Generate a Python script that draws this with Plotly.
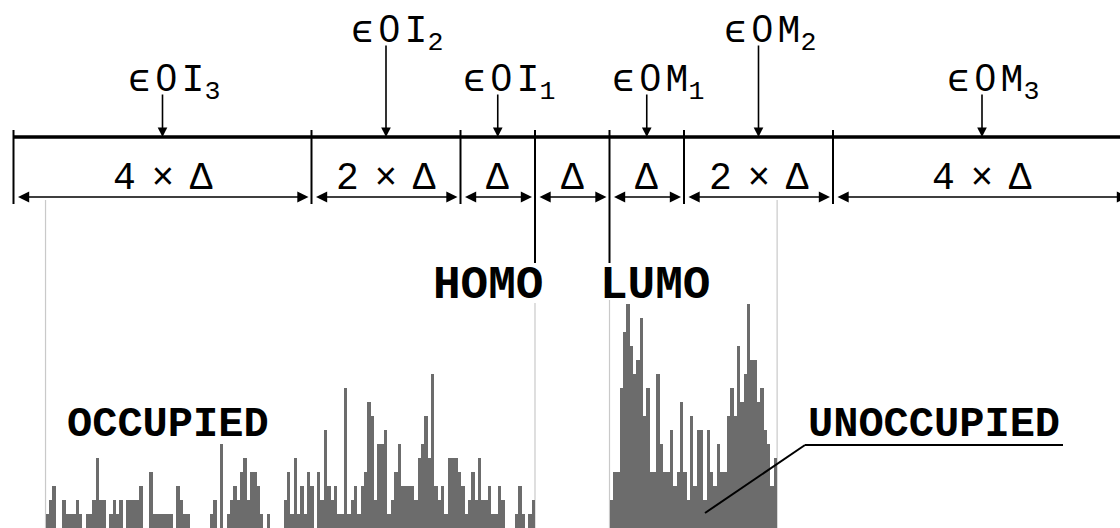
import plotly.graph_objects as go

# ---------------- data ----------------
# Energy axis in units of Delta (HOMO = 0, LUMO = 1)
segment_edges = [-7, -3, -1, 0, 1, 2, 4, 8]
segment_labels = [["4", "×", "Δ"], ["2", "×", "Δ"], ["Δ"], ["Δ"], ["Δ"], ["2", "×", "Δ"], ["4", "×", "Δ"]]

level_names = [["ϵ", "0", "I<sub>3</sub>"], ["ϵ", "0", "I<sub>2</sub>"], ["ϵ", "0", "I<sub>1</sub>"],
               ["ϵ", "0", "M<sub>1</sub>"], ["ϵ", "0", "M<sub>2</sub>"], ["ϵ", "0", "M<sub>3</sub>"]]
level_positions = [-5, -2, -0.5, 1.5, 3, 6]
level_rows = [2, 1, 2, 2, 1, 2]   # 1 = upper row of labels

# histogram of occupied levels (counts per bin), from low energy up to HOMO
occ_counts = [1, 2, 3, 0, 0, 2, 1, 1, 1, 2,
              1, 0, 1, 1, 2, 5, 2, 2, 0, 1,
              2, 1, 2, 0, 2, 2, 2, 2, 3, 0,
              0, 4, 1, 1, 1, 1, 1, 1, 0, 3,
              2, 1, 1, 0, 0, 0, 0, 0, 0, 1,
              2, 0, 6, 0, 1, 2, 3, 2, 4, 5,
              2, 4, 4, 3, 1, 0, 1, 0, 0, 0,
              0, 2, 4, 1, 5, 1, 3, 1, 4, 3,
              0, 4, 2, 7, 3, 2, 3, 1, 1, 10,
              1, 2, 3, 1, 3, 4, 9, 8, 2, 6,
              6, 7, 1, 2, 4, 6, 3, 3, 3, 3,
              2, 5, 6, 8, 5, 11, 3, 2, 3, 1,
              5, 5, 5, 4, 3, 1, 2, 4, 2, 5,
              2, 2, 3, 1, 1, 3, 2, 0, 0, 0,
              1, 3, 1, 0, 1, 2]
# histogram of unoccupied levels (counts per bin), from LUMO upward
unocc_counts = [2, 4, 4, 10, 14, 16, 13, 11, 12, 15,
                8, 10, 4, 4, 11, 6, 4, 4, 7, 3,
                4, 9, 4, 2, 8, 3, 7, 7, 2, 7,
                4, 3, 6, 4, 4, 8, 10, 8, 13, 9,
                11, 16, 12, 12, 9, 10, 7, 6, 3, 5]
OCC_START = -6.57
UNOCC_START = 1.0
BIN_W = 0.045

# ---------------- figure ----------------
W, H = 1120, 528
PX_PER_UNIT = 74.5
HOMO_PX = 535
X0 = (0 - HOMO_PX) / PX_PER_UNIT
X1 = (W - HOMO_PX) / PX_PER_UNIT
COUNT_PX = 14.0


def yy(py):
    """pixel row (from top) -> diagram y units"""
    return H - py


def xx(px):
    return (px - HOMO_PX) / PX_PER_UNIT


BAR_COLOR = "#6c6c6c"
FONT = "Liberation Mono, DejaVu Sans Mono, monospace"


def spaced(parts, px):
    sp = '<span style="font-size:%dpx"> </span>' % px
    return sp.join(parts)


fig = go.Figure()

occ_x = [OCC_START + BIN_W * (i + 0.5) for i in range(len(occ_counts))]
unocc_x = [UNOCC_START + BIN_W * (i + 0.5) for i in range(len(unocc_counts))]
fig.add_trace(go.Bar(x=occ_x, y=occ_counts, width=BIN_W, marker=dict(color=BAR_COLOR, line=dict(width=0)),
                     yaxis="y2", showlegend=False, hoverinfo="skip"))
fig.add_trace(go.Bar(x=unocc_x, y=unocc_counts, width=BIN_W, marker=dict(color=BAR_COLOR, line=dict(width=0)),
                     yaxis="y2", showlegend=False, hoverinfo="skip"))

shapes = []
ann = []

# main energy line
shapes.append(dict(type="line", xref="x", yref="y", x0=segment_edges[0], x1=X1 + 0.5,
                   y0=yy(137), y1=yy(137), line=dict(color="black", width=3.5)))
# segment ticks
for e in segment_edges[:-1]:
    y_bottom = yy(263) if e in (0, 1) else yy(204)
    shapes.append(dict(type="line", xref="x", yref="y", x0=e, x1=e, y0=yy(130), y1=y_bottom,
                       line=dict(color="black", width=2)))

# light grey boundary lines of the histograms
grey = "#c9c9c9"
unocc_end = UNOCC_START + BIN_W * len(unocc_counts)
for xv, ytop in [(OCC_START, 200), (0, 303), (UNOCC_START, 300), (unocc_end, 200)]:
    shapes.append(dict(type="line", xref="x", yref="y", x0=xv, x1=xv, y0=yy(ytop), y1=0,
                       line=dict(color=grey, width=1.2), layer="below"))

# double-headed width arrows
for a, b, lab in zip(segment_edges[:-1], segment_edges[1:], segment_labels):
    ann.append(dict(x=b, y=yy(197), ax=a, ay=yy(197), xref="x", yref="y", axref="x", ayref="y",
                    text="", showarrow=True, arrowside="end+start", arrowhead=2, startarrowhead=2,
                    arrowsize=1.6, startarrowsize=1.6, arrowwidth=1.4, standoff=3, startstandoff=3,
                    arrowcolor="black"))
    ann.append(dict(x=(a + b) / 2 if b < 8 else 6, y=yy(178), xref="x", yref="y",
                    text=spaced(lab, 26), showarrow=False,
                    font=dict(family=FONT, size=38, color="black"),
                    xanchor="center", yanchor="middle"))

# level labels with arrows
for parts, pos, row in zip(level_names, level_positions, level_rows):
    top = 44 if row == 1 else 93
    centre = 31 if row == 1 else 80
    ann.append(dict(x=pos, y=yy(137), ax=pos, ay=yy(top), xref="x", yref="y", axref="x", ayref="y",
                    text="", showarrow=True, arrowhead=2, arrowsize=1.2, arrowwidth=1.6,
                    arrowcolor="black", standoff=0))
    txt = spaced([parts[0], '<span style="font-family:Liberation Sans">0</span>', parts[2]], 8)
    ann.append(dict(x=pos, y=yy(centre + 29), xref="x", yref="y", text=txt, showarrow=False,
                    font=dict(family=FONT, size=38, color="black"), xanchor="center", yanchor="bottom",
                    xshift=11))

# HOMO / LUMO
ann.append(dict(x=0, y=yy(286), xref="x", yref="y", text="<b>HOMO</b>", showarrow=False,
                font=dict(family=FONT, size=46, color="black"), xanchor="center", yanchor="middle",
                xshift=-47))
ann.append(dict(x=1, y=yy(286), xref="x", yref="y", text="<b>LUMO</b>", showarrow=False,
                font=dict(family=FONT, size=46, color="black"), xanchor="center", yanchor="middle",
                xshift=45))

# OCCUPIED / UNOCCUPIED
ann.append(dict(x=xx(168), y=yy(425), xref="x", yref="y", text="<b>OCCUPIED</b>", showarrow=False,
                font=dict(family=FONT, size=42, color="black"), xanchor="center", yanchor="middle"))
ann.append(dict(x=xx(934), y=yy(425), xref="x", yref="y", text="<b>UNOCCUPIED</b>", showarrow=False,
                font=dict(family=FONT, size=42, color="black"), xanchor="center", yanchor="middle"))
shapes.append(dict(type="line", xref="x", yref="y", x0=xx(805), x1=xx(1063), y0=yy(445), y1=yy(445),
                   line=dict(color="black", width=2)))
shapes.append(dict(type="line", xref="x", yref="y", x0=xx(805), x1=xx(705), y0=yy(445), y1=yy(513),
                   line=dict(color="black", width=2)))

fig.update_layout(
    width=W, height=H, autosize=False,
    margin=dict(l=0, r=0, t=0, b=0),
    paper_bgcolor="white", plot_bgcolor="white",
    bargap=0, barmode="overlay",
    xaxis=dict(range=[X0, X1], visible=False, fixedrange=True),
    yaxis=dict(range=[0, H], visible=False, fixedrange=True),
    yaxis2=dict(range=[0, H / COUNT_PX], visible=False, overlaying="y", fixedrange=True),
    shapes=shapes, annotations=ann, showlegend=False,
)

fig.write_html("out.html")
